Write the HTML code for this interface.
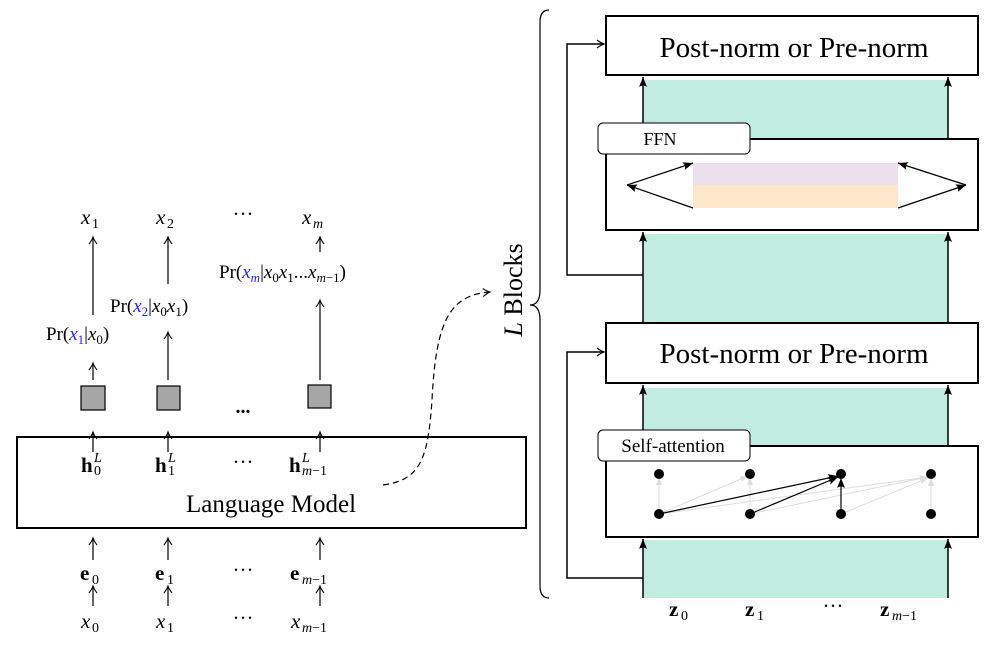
<!DOCTYPE html>
<html><head><style>
html,body{margin:0;padding:0;background:#fff;}
svg text{font-family:"Liberation Serif",serif;}
</style></head><body>
<svg width="1005" height="644" viewBox="0 0 1005 644" xmlns="http://www.w3.org/2000/svg">
<defs>
<marker id="a" markerWidth="10" markerHeight="10" refX="8" refY="5" orient="auto" markerUnits="userSpaceOnUse">
<path d="M1,1 Q5,4 8,5 Q5,6 1,9" fill="none" stroke="#000" stroke-width="1.1"/></marker>
<marker id="f" markerWidth="12" markerHeight="10" refX="10" refY="5" orient="auto" markerUnits="userSpaceOnUse">
<path d="M0,1 L10,5 L0,9 Q3,5 0,1Z" fill="#000"/></marker>
<marker id="g" markerWidth="10" markerHeight="8" refX="8" refY="4" orient="auto" markerUnits="userSpaceOnUse">
<path d="M0,1 L8,4 L0,7Z" fill="#ddd"/></marker>
</defs>

<rect x="17" y="437" width="509" height="91" fill="#fff" stroke="#000" stroke-width="2"/>
<text x="271" y="512" font-size="25" text-anchor="middle">Language Model</text>
<g font-size="21">
<text x="81" y="472" font-weight="bold">h</text><text x="94" y="462" font-size="14" font-style="italic">L</text><text x="94" y="475" font-size="14">0</text>
<text x="155" y="472" font-weight="bold">h</text><text x="168" y="462" font-size="14" font-style="italic">L</text><text x="168" y="475" font-size="14">1</text>
<text x="243" y="469" text-anchor="middle">···</text>
<text x="289" y="472" font-weight="bold">h</text><text x="302" y="462" font-size="14" font-style="italic">L</text><text x="302" y="475" font-size="14"><tspan font-style="italic">m</tspan>−1</text>

<text x="80" y="580" font-weight="bold">e</text><text x="92" y="584" font-size="14">0</text>
<text x="155" y="580" font-weight="bold">e</text><text x="167" y="584" font-size="14">1</text>
<text x="243" y="577" text-anchor="middle">···</text>
<text x="290" y="580" font-weight="bold">e</text><text x="302" y="584" font-size="14"><tspan font-style="italic">m</tspan>−1</text>

<text x="81" y="628" font-style="italic">x</text><text x="92" y="632" font-size="14">0</text>
<text x="156" y="628" font-style="italic">x</text><text x="167" y="632" font-size="14">1</text>
<text x="243" y="625" text-anchor="middle">···</text>
<text x="291" y="628" font-style="italic">x</text><text x="302" y="632" font-size="14"><tspan font-style="italic">m</tspan>−1</text>

<text x="81" y="224" font-style="italic">x</text><text x="92" y="228" font-size="14">1</text>
<text x="156" y="224" font-style="italic">x</text><text x="167" y="228" font-size="14">2</text>
<text x="243" y="221" text-anchor="middle">···</text>
<text x="302" y="224" font-style="italic">x</text><text x="313" y="228" font-size="14" font-style="italic">m</text>
</g>
<g font-size="19">
<text x="46" y="340">Pr(<tspan fill="#2222ff" font-style="italic">x</tspan><tspan fill="#2222ff" font-size="13" dy="4">1</tspan><tspan dy="-4">|</tspan><tspan font-style="italic">x</tspan><tspan font-size="13" dy="4">0</tspan><tspan dy="-4">)</tspan></text>
<text x="110" y="312">Pr(<tspan fill="#2222ff" font-style="italic">x</tspan><tspan fill="#2222ff" font-size="13" dy="4">2</tspan><tspan dy="-4">|</tspan><tspan font-style="italic">x</tspan><tspan font-size="13" dy="4">0</tspan><tspan dy="-4" font-style="italic">x</tspan><tspan font-size="13" dy="4">1</tspan><tspan dy="-4">)</tspan></text>
<text x="219" y="278">Pr(<tspan fill="#2222ff" font-style="italic">x</tspan><tspan fill="#2222ff" font-size="13" font-style="italic" dy="4">m</tspan><tspan dy="-4">|</tspan><tspan font-style="italic">x</tspan><tspan font-size="13" dy="4">0</tspan><tspan dy="-4" font-style="italic">x</tspan><tspan font-size="13" dy="4">1</tspan><tspan dy="-4">...</tspan><tspan font-style="italic">x</tspan><tspan font-size="13" font-style="italic" dy="4">m</tspan><tspan font-size="13">−1</tspan><tspan dy="-4">)</tspan></text>
</g>
<g fill="#a6a6a6" stroke="#000" stroke-width="1.2">
<rect x="81" y="386" width="24" height="24"/><rect x="157" y="386" width="23" height="24"/><rect x="308" y="385" width="23" height="23"/>
</g>
<text x="243" y="413" font-size="20" text-anchor="middle" font-weight="bold">...</text>
<g stroke="#000" stroke-width="1.2" marker-end="url(#a)">
<line x1="93" y1="452" x2="93" y2="432"/><line x1="168" y1="452" x2="168" y2="432"/><line x1="320" y1="452" x2="320" y2="432"/>
<line x1="93" y1="560" x2="93" y2="538"/><line x1="168" y1="560" x2="168" y2="538"/><line x1="320" y1="560" x2="320" y2="538"/>
<line x1="93" y1="606" x2="93" y2="586"/><line x1="168" y1="606" x2="168" y2="586"/><line x1="320" y1="606" x2="320" y2="586"/>
<line x1="93" y1="380" x2="93" y2="363"/><line x1="168" y1="380" x2="168" y2="332"/><line x1="320" y1="380" x2="320" y2="300"/>
<line x1="93" y1="315" x2="93" y2="237"/><line x1="168" y1="284" x2="168" y2="237"/><line x1="320" y1="252" x2="320" y2="237"/>
</g>
<path d="M383,485 C420,480 428,460 432,400 C436,320 450,295 490,292" fill="none" stroke="#000" stroke-width="1.2" stroke-dasharray="6,4" marker-end="url(#a)"/>

<path d="M549,10 Q540,10 540,22 L540,290 Q540,305 530,305 Q540,305 540,320 L540,586 Q540,598 549,598" fill="none" stroke="#000" stroke-width="1.2"/>
<text transform="translate(522,290) rotate(-90)" font-size="26" text-anchor="middle"><tspan font-style="italic">L</tspan> Blocks</text>

<g fill="#c1ede0">
<rect x="643" y="80" width="305" height="60"/>
<rect x="643" y="234" width="305" height="89"/>
<rect x="643" y="388" width="305" height="58"/>
<rect x="643" y="540" width="305" height="58"/>
</g>
<g stroke="#000" stroke-width="1.5" marker-end="url(#f)">
<line x1="643" y1="140" x2="643" y2="77"/><line x1="948" y1="140" x2="948" y2="77"/>
<line x1="643" y1="323" x2="643" y2="232"/><line x1="948" y1="323" x2="948" y2="232"/>
<line x1="643" y1="446" x2="643" y2="385"/><line x1="948" y1="446" x2="948" y2="385"/>
<line x1="643" y1="598" x2="643" y2="539"/><line x1="948" y1="598" x2="948" y2="539"/>
</g>
<g fill="none" stroke="#000" stroke-width="1.5">
<path d="M643,275 L567,275 L567,44 L604,44" marker-end="url(#a)"/>
<path d="M643,578 L567,578 L567,352 L604,352" marker-end="url(#a)"/>
</g>
<g fill="#fff" stroke="#000" stroke-width="2">
<rect x="606" y="16" width="372" height="59"/>
<rect x="606" y="323" width="372" height="60"/>
<rect x="606" y="139" width="372" height="91"/>
<rect x="606" y="446" width="372" height="91"/>
</g>
<g font-size="29" text-anchor="middle">
<text x="794" y="57">Post-norm or Pre-norm</text>
<text x="794" y="363">Post-norm or Pre-norm</text>
</g>
<rect x="598" y="123" width="152" height="31" rx="5" fill="#fff" stroke="#000" stroke-width="1"/>
<text x="660" y="145" font-size="18" text-anchor="middle">FFN</text>
<rect x="598" y="430" width="152" height="31" rx="5" fill="#fff" stroke="#000" stroke-width="1"/>
<text x="673" y="452" font-size="19" text-anchor="middle">Self-attention</text>

<rect x="693" y="163" width="205" height="22" fill="#ece0ec"/>
<rect x="693" y="185" width="205" height="23" fill="#fde6ca"/>
<g stroke="#000" stroke-width="1.2" marker-end="url(#f)">
<line x1="627" y1="185" x2="693" y2="163"/>
<line x1="693" y1="208" x2="627" y2="185"/>
<line x1="966" y1="185" x2="898" y2="163"/>
<line x1="898" y1="208" x2="966" y2="185"/>
</g>

<g stroke="#ddd" stroke-width="1" marker-end="url(#g)">
<line x1="659" y1="514" x2="659" y2="477"/>
<line x1="659" y1="514" x2="748" y2="476"/>
<line x1="659" y1="514" x2="928" y2="477"/>
<line x1="750" y1="514" x2="750" y2="477"/>
<line x1="750" y1="514" x2="928" y2="477"/>
<line x1="841" y1="514" x2="928" y2="478"/>
<line x1="931" y1="514" x2="931" y2="478"/>
</g>
<g stroke="#000" stroke-width="1.2" marker-end="url(#f)">
<line x1="659" y1="514" x2="838" y2="476"/>
<line x1="750" y1="514" x2="838" y2="477"/>
<line x1="841" y1="514" x2="841" y2="478"/>
</g>
<g fill="#000">
<circle cx="659" cy="474" r="5"/><circle cx="750" cy="474" r="5"/><circle cx="841" cy="474" r="5"/><circle cx="931" cy="474" r="5"/>
<circle cx="659" cy="514" r="5"/><circle cx="750" cy="514" r="5"/><circle cx="841" cy="514" r="5"/><circle cx="931" cy="514" r="5"/>
</g>

<g font-size="21">
<text x="669" y="616" font-weight="bold">z</text><text x="681" y="620" font-size="14">0</text>
<text x="745" y="616" font-weight="bold">z</text><text x="757" y="620" font-size="14">1</text>
<text x="833" y="613" text-anchor="middle">···</text>
<text x="880" y="616" font-weight="bold">z</text><text x="892" y="620" font-size="14"><tspan font-style="italic">m</tspan>−1</text>
</g>
</svg>
</body></html>
